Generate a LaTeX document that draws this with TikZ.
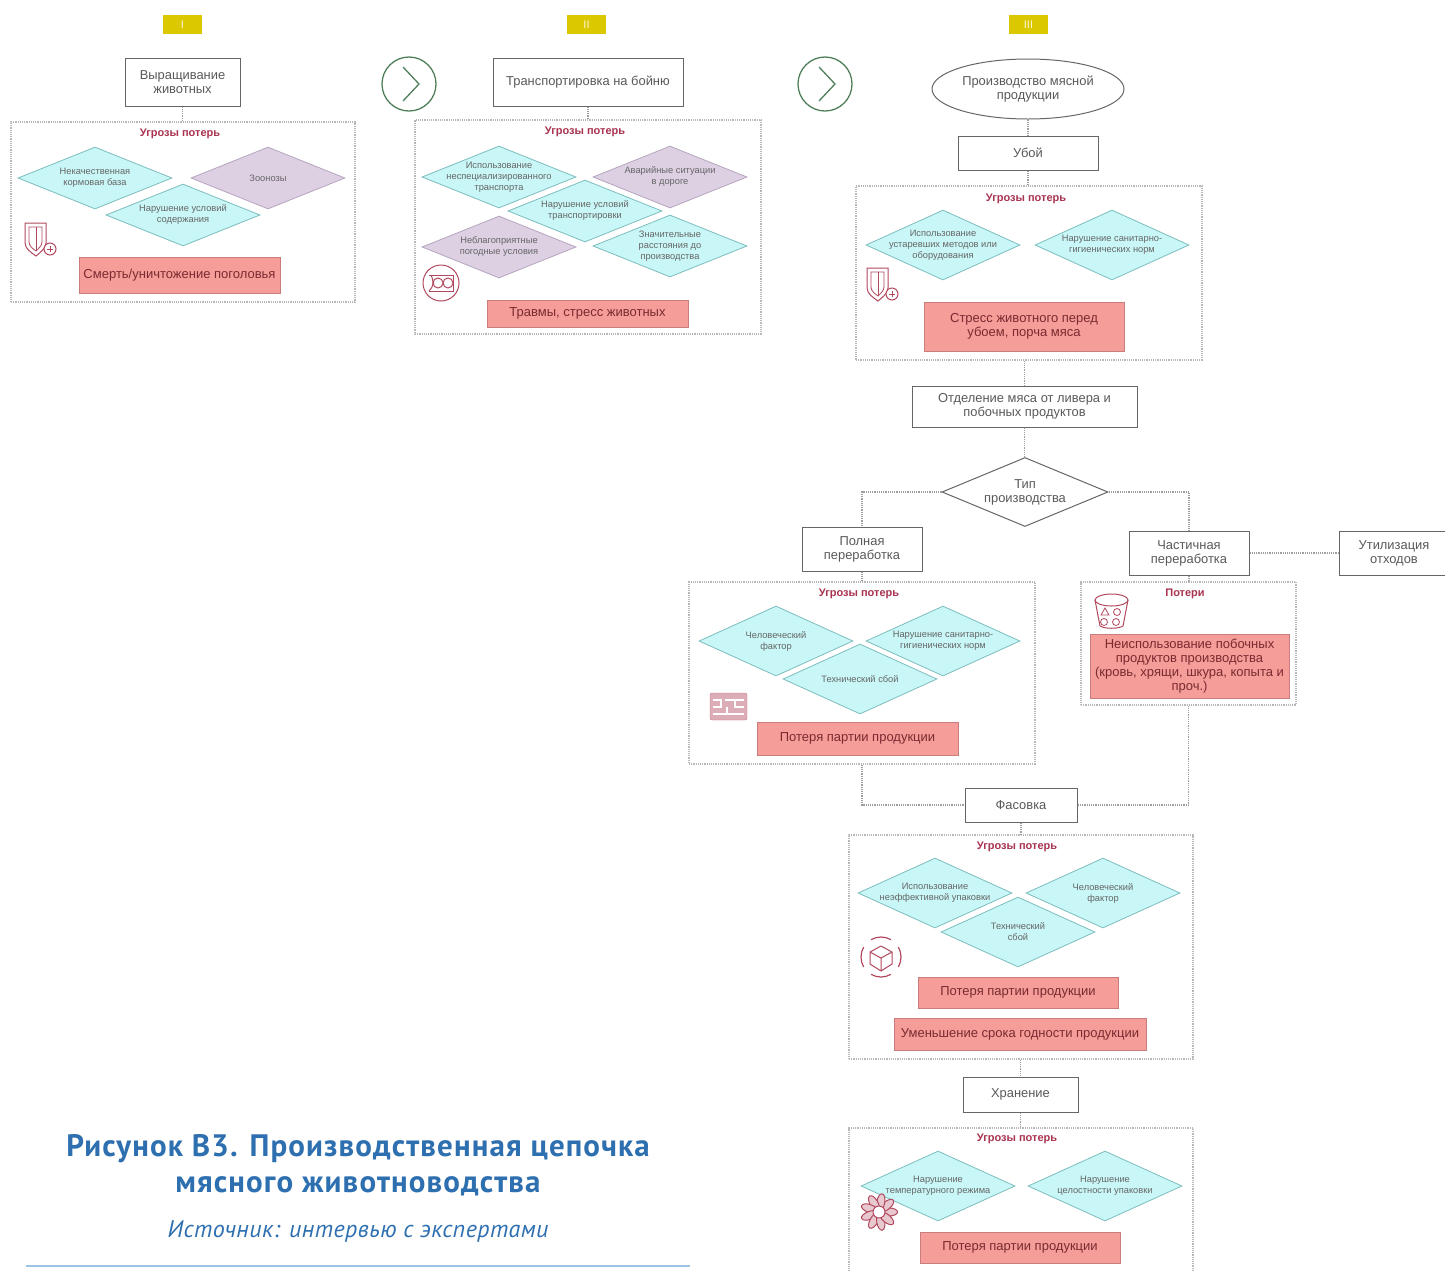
\documentclass[tikz,border=0pt]{standalone}
\usepackage{fontspec}
\setmainfont{Liberation Sans}
\newfontfamily\capfont[LetterSpace=3.6]{PT Sans}
\newfontfamily\srcfont[LetterSpace=1.8]{PT Sans}
\usetikzlibrary{shapes.geometric}
\definecolor{badgecol}{HTML}{DCC800}
\definecolor{cyanfill}{HTML}{C9F6F6}
\definecolor{cyanedge}{HTML}{7DBDBD}
\definecolor{purplefill}{HTML}{DDD0E3}
\definecolor{purpleedge}{HTML}{B5A5BE}
\definecolor{redfill}{HTML}{F59D99}
\definecolor{rededge}{HTML}{C97C7C}
\definecolor{redtext}{HTML}{7A2A30}
\definecolor{titlecol}{HTML}{A8324F}
\definecolor{iconcol}{HTML}{B2485E}
\definecolor{arrowcol}{HTML}{4F7F5A}
\definecolor{capcol}{HTML}{2E6FB0}
\definecolor{rulecol}{HTML}{9DC3E6}
\tikzset{
	stepbox/.style={draw=black!60, line width=1pt, fill=white, align=center, inner sep=0pt, text=black!65,
		font=\fontsize{12.9}{14}\selectfont},
	lossbox/.style={draw=rededge, line width=0.8pt, fill=redfill, align=center, inner sep=0pt, text=redtext,
		font=\fontsize{13}{14}\selectfont},
	frame/.style={draw=black!28, dash pattern=on 1.2pt off 1pt, line width=1.1pt, inner sep=0pt},
	link/.style={draw=black!38, dash pattern=on 1.2pt off 1pt, line width=1.2pt},
	cyanlow/.style={diamond, draw=cyanedge, line width=0.8pt, fill=cyanfill, inner sep=0pt, minimum width=154, minimum height=62},
	cyantall/.style={cyanlow, minimum height=70},
	purplelow/.style={diamond, draw=purpleedge, line width=0.8pt, fill=purplefill, inner sep=0pt, minimum width=154, minimum height=62},
	threattext/.style={align=center, inner sep=0pt, text=black!60, font=\fontsize{9.3}{11}\selectfont},
	flowtext/.style={align=center, inner sep=0pt, text=black!65, font=\fontsize{12.9}{14}\selectfont},
	lossttl/.style={inner sep=0pt, text=titlecol, font=\fontsize{11}{12}\selectfont\bfseries},
	badge/.style={fill=badgecol, minimum width=39, minimum height=19, inner sep=0pt, text=white!85!badgecol,
		font=\fontsize{11}{12}\selectfont},
	nextarrow/.style={circle, draw=arrowcol, line width=1.3pt, minimum size=54, inner sep=0pt},
	shieldicon/.pic={
		\draw[iconcol, line width=1pt] (-14,-16) -- (7,-16) -- (7,4) .. controls (7,10) and (0,14) .. (-3,17)
			.. controls (-7,14) and (-14,10) .. (-14,4) -- cycle;
		\draw[iconcol, line width=0.8pt] (-10,-12) -- (3,-12) -- (3,3) .. controls (3,7) and (-1,10) .. (-3,12)
			.. controls (-6,10) and (-10,7) .. (-10,3) -- cycle;
		\draw[iconcol, line width=0.8pt] (-3,-12) -- (-3,12);
		\draw[iconcol, line width=1pt, fill=white] (11,10) circle (6);
		\draw[iconcol, line width=0.7pt] (8,10) -- (14,10) (11,7) -- (11,13);
	}
}
\begin{document}
\begin{tikzpicture}[x=1pt, y=-1pt]
	\useasboundingbox (0,0) rectangle (1445,1270);
	\clip (0,0) rectangle (1445,1270);

	\foreach \n/\x/\lbl in {badgeA/182.5/I, badgeB/586.5/II, badgeC/1028.5/III}
		\node[badge] (\n) at (\x,24.5) {\lbl};
	\foreach \n/\x in {nextA/409, nextB/825}
	{
		\node[nextarrow] (\n) at (\x,84) {};
		\draw[arrowcol, line width=1.3pt] ([shift={(-6,-17)}]\n.center) -- ([shift={(10,0)}]\n.center) -- ([shift={(-6,17)}]\n.center);
	}

	\foreach \n/\x/\y/\w/\h in {frameA/183/212/344/180, frameB/588/227/346/214, frameC/1029/273/346/174,
		frameD/862/673/346/182, frameE/1188.5/643.5/215/123, frameF/1021/947/344/224, frameG/1021/1209/344/162}
		\node[frame, minimum width=\w, minimum height=\h] (\n) at (\x,\y) {};

	\foreach \n/\x/\y/\lbl in {ttlA/180/134/Угрозы потерь, ttlB/585/132/Угрозы потерь, ttlC/1026/199/Угрозы потерь,
		ttlD/859/594/Угрозы потерь, ttlE/1185/594/Потери, ttlF/1017/847/Угрозы потерь, ttlG/1017/1139/Угрозы потерь}
		\node[lossttl] (\n) at (\x,\y) {\lbl};

	\foreach \n/\x/\y/\w/\h/\lbl in {
		raise/182.5/82/115/48/{Выращивание\\животных},
		carry/588/82/190/48/{Транспортировка на бойню},
		slaughter/1028/153/140/34/{Убой},
		separate/1024.5/406.5/225/41/{Отделение мяса от ливера и\\побочных продуктов},
		full/862/549/120/44/{Полная\\переработка},
		part/1189/553/120/44/{Частичная\\переработка},
		waste/1394/553/110/44/{Утилизация\\отходов},
		pack/1021/805/112/34/{Фасовка},
		store/1020.5/1094.5/115/35/{Хранение}}
		\node[stepbox, minimum width=\w, minimum height=\h] (\n) at (\x,\y) {\lbl};

	\node[ellipse, draw=black!60, line width=1pt, minimum width=192, minimum height=60, inner sep=0pt] (make) at (1028,89) {};
	\node[flowtext] (maketxt) at (make) {Производство мясной\\продукции};
	\node[diamond, draw=black!60, line width=1pt, fill=white, minimum width=166, minimum height=69, inner sep=0pt] (kind) at (1025,492) {};
	\node[flowtext] (kindtxt) at (kind) {Тип\\производства};

	\foreach \n/\st/\x/\y/\lbl in {
		a1/cyanlow/95/178/{Некачественная\\кормовая база},
		a2/cyanlow/183/215/{Нарушение условий\\содержания},
		a3/purplelow/268/178/{Зоонозы},
		b1/cyanlow/499/177/{Использование\\неспециализированного\\транспорта},
		b2/purplelow/670/177/{Аварийные ситуации\\в дороге},
		b3/cyanlow/585/211/{Нарушение условий\\транспортировки},
		b4/purplelow/499/247/{Неблагоприятные\\погодные условия},
		b5/cyanlow/670/246/{Значительные\\расстояния до\\производства},
		c1/cyantall/943/245/{Использование\\устаревших методов или\\оборудования},
		c2/cyantall/1112/245/{Нарушение санитарно-\\гигиенических норм},
		d1/cyantall/776/641/{Человеческий\\фактор},
		d2/cyantall/943/641/{Нарушение санитарно-\\гигиенических норм},
		d3/cyantall/860/679/{Технический сбой},
		f1/cyantall/935/893/{Использование\\неэффективной упаковки},
		f2/cyantall/1103/893/{Человеческий\\фактор},
		f3/cyantall/1018/932/{Технический\\сбой},
		g1/cyantall/938/1186/{Нарушение\\температурного режима},
		g2/cyantall/1105/1186/{Нарушение\\целостности упаковки}}
	{
		\node[\st] (\n) at (\x,\y) {};
		\node[threattext] (\n txt) at (\n) {\lbl};
	}

	\foreach \n/\x/\y/\w/\h/\lbl in {
		lossA/179.5/275/201/36/{Смерть/уничтожение поголовья},
		lossB/587.5/313.5/201/27/{Травмы, стресс животных},
		lossC/1024/326.5/200/49/{Стресс животного перед\\убоем, порча мяса},
		lossD/857.5/738.5/201/33/{Потеря партии продукции},
		lossE/1189.5/666/199/64/{Неиспользование побочных\\продуктов производства\\(кровь, хрящи, шкура, копыта и\\проч.)},
		lossF/1018/992.5/200/31/{Потеря партии продукции},
		lossH/1020/1034/252/32/{Уменьшение срока годности продукции},
		lossG/1020/1247.5/200/31/{Потеря партии продукции}}
		\node[lossbox, minimum width=\w, minimum height=\h] (\n) at (\x,\y) {\lbl};

	\draw[link] (raise) -- (raise |- frameA.north);
	\draw[link] (carry) -- (carry |- frameB.north);
	\draw[link] (make) -- (make |- slaughter.north);
	\draw[link] (slaughter) -- (slaughter |- frameC.north);
	\draw[link] (frameC.south -| separate) -- (separate.north);
	\draw[link] (separate.south) -- (separate |- kind.north);
	\draw[link] (kind.west) -| (full.north);
	\draw[link] (kind.east) -| (part.north);
	\draw[link] (full.south) -- (full |- frameD.north);
	\draw[link] (part.south) -- (part |- frameE.north);
	\draw[link] (part.east) -- (waste.west);
	\draw[link] (frameD.south) |- (pack.west);
	\draw[link] (frameE.south) |- (pack.east);
	\draw[link] (pack.south) -- (pack |- frameF.north);
	\draw[link] (frameF.south -| store) -- (store.north);
	\draw[link] (store.south) -- (store |- frameG.north);

	\pic at (39,239) {shieldicon};
	\pic at (881,284) {shieldicon};

	\draw[iconcol, line width=1pt] (441,283) circle (18);
	\draw[iconcol, line width=1pt, fill=white] (429,275) -- (453,275) -- (453,291) -- (429,291);
	\draw[iconcol, line width=1pt] (438,283) circle (5) (448,283) circle (5);
	\draw[iconcol, line width=1pt] (431,275) .. controls (434,282) and (434,286) .. (429,291);

	\draw[iconcol!75, fill=iconcol!45, rounded corners=2pt] (710,693) rectangle (747,720);
	\draw[white, line width=1.1pt] (713,700) -- (721,700) -- (721,707) -- (713,707) (725,700) -- (744,700) (735,700) -- (735,707) -- (744,707)
		(713,714) -- (744,714) (727,707) -- (727,714);

	\draw[iconcol, line width=1pt] (1095,600) -- (1100,626) .. controls (1105,629) and (1118,629) .. (1123,626) -- (1128,600);
	\draw[iconcol, line width=1pt] (1111.5,600) ellipse (16.5 and 6);
	\draw[iconcol, line width=0.8pt] (1105,608) -- (1109,615) -- (1101,615) -- cycle;
	\draw[iconcol, line width=0.8pt] (1117,612) circle (3.5) (1104,622) circle (3.5) (1116,622) circle (3.5);

	\draw[iconcol, line width=1pt, line join=round] (881,946) -- (892,952) -- (892,964) -- (881,971) -- (870,964) -- (870,952) -- cycle
		(870,952) -- (881,958) -- (892,952) (881,958) -- (881,971);
	\draw[iconcol, line width=1.2pt] (881,957) ++(30:20) arc (30:-30:20) (881,957) ++(150:20) arc (150:210:20)
		(881,957) ++(240:20) arc (240:300:20) (881,957) ++(60:20) arc (60:120:20);

	\foreach \a in {0,40,...,320}
		\draw[iconcol, line width=1pt, fill=iconcol!30, rotate around={\a:(879,1212)}] (889,1212) ellipse (8.5 and 4);
	\draw[iconcol, line width=1pt, fill=white] (879,1212) circle (6);

	\node[inner sep=0pt, text=capcol, align=center, font=\capfont\bfseries\fontsize{31}{36}\selectfont] (caption) at (358,1165.5)
		{Рисунок В3. Производственная цепочка\\мясного животноводства};
	\node[inner sep=0pt, text=capcol, font=\srcfont\itshape\fontsize{24}{26}\selectfont] (source) at (358,1231) {Источник: интервью с экспертами};
	\coordinate (ruleL) at (26,1266);
	\coordinate (ruleR) at (690,1266);
	\draw[rulecol, line width=1.2pt] (ruleL) -- (ruleR);
\end{tikzpicture}
\end{document}
